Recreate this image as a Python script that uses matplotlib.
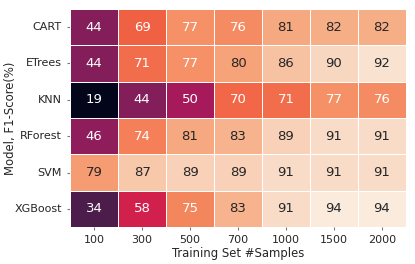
import numpy as np
import matplotlib
matplotlib.use("Agg")
import matplotlib.pyplot as plt
import seaborn as sns

models = ["CART", "ETrees", "KNN", "RForest", "SVM", "XGBoost"]
samples = ["100", "300", "500", "700", "1000", "1500", "2000"]
cart = [44, 69, 77, 76, 81, 82, 82]
etrees = [44, 71, 77, 80, 86, 90, 92]
knn = [19, 44, 50, 70, 71, 77, 76]
rforest = [46, 74, 81, 83, 89, 91, 91]
svm = [79, 87, 89, 89, 91, 91, 91]
xgboost = [34, 58, 75, 83, 91, 94, 94]

data = np.array([cart, etrees, knn, rforest, svm, xgboost])

sns.set_style("ticks")
plt.rcParams['font.family'] = ['DejaVu Sans']
fig = plt.figure(figsize=(4.15, 2.64), dpi=100)
ax = fig.add_axes([0.169, 0.14, 0.809, 0.826])
sns.heatmap(data, ax=ax, cmap="rocket", annot=True, fmt="d", cbar=False,
            linewidths=0.6, linecolor="white",
            xticklabels=samples, yticklabels=models,
            annot_kws={"size": 9.5})
ax.set_xlabel("Training Set #Samples", fontsize=8.4, labelpad=1)
ax.set_ylabel("Model, F1-Score(%)", fontsize=8.4)
ax.yaxis.set_label_coords(-0.158, 0.5)
ax.tick_params(axis="both", labelsize=8, length=2.5, color="#777777",
               labelcolor="#262626")
plt.setp(ax.get_yticklabels(), rotation=0)
plt.setp(ax.get_xticklabels(), rotation=0)
fig.savefig("out.png", dpi=100)
